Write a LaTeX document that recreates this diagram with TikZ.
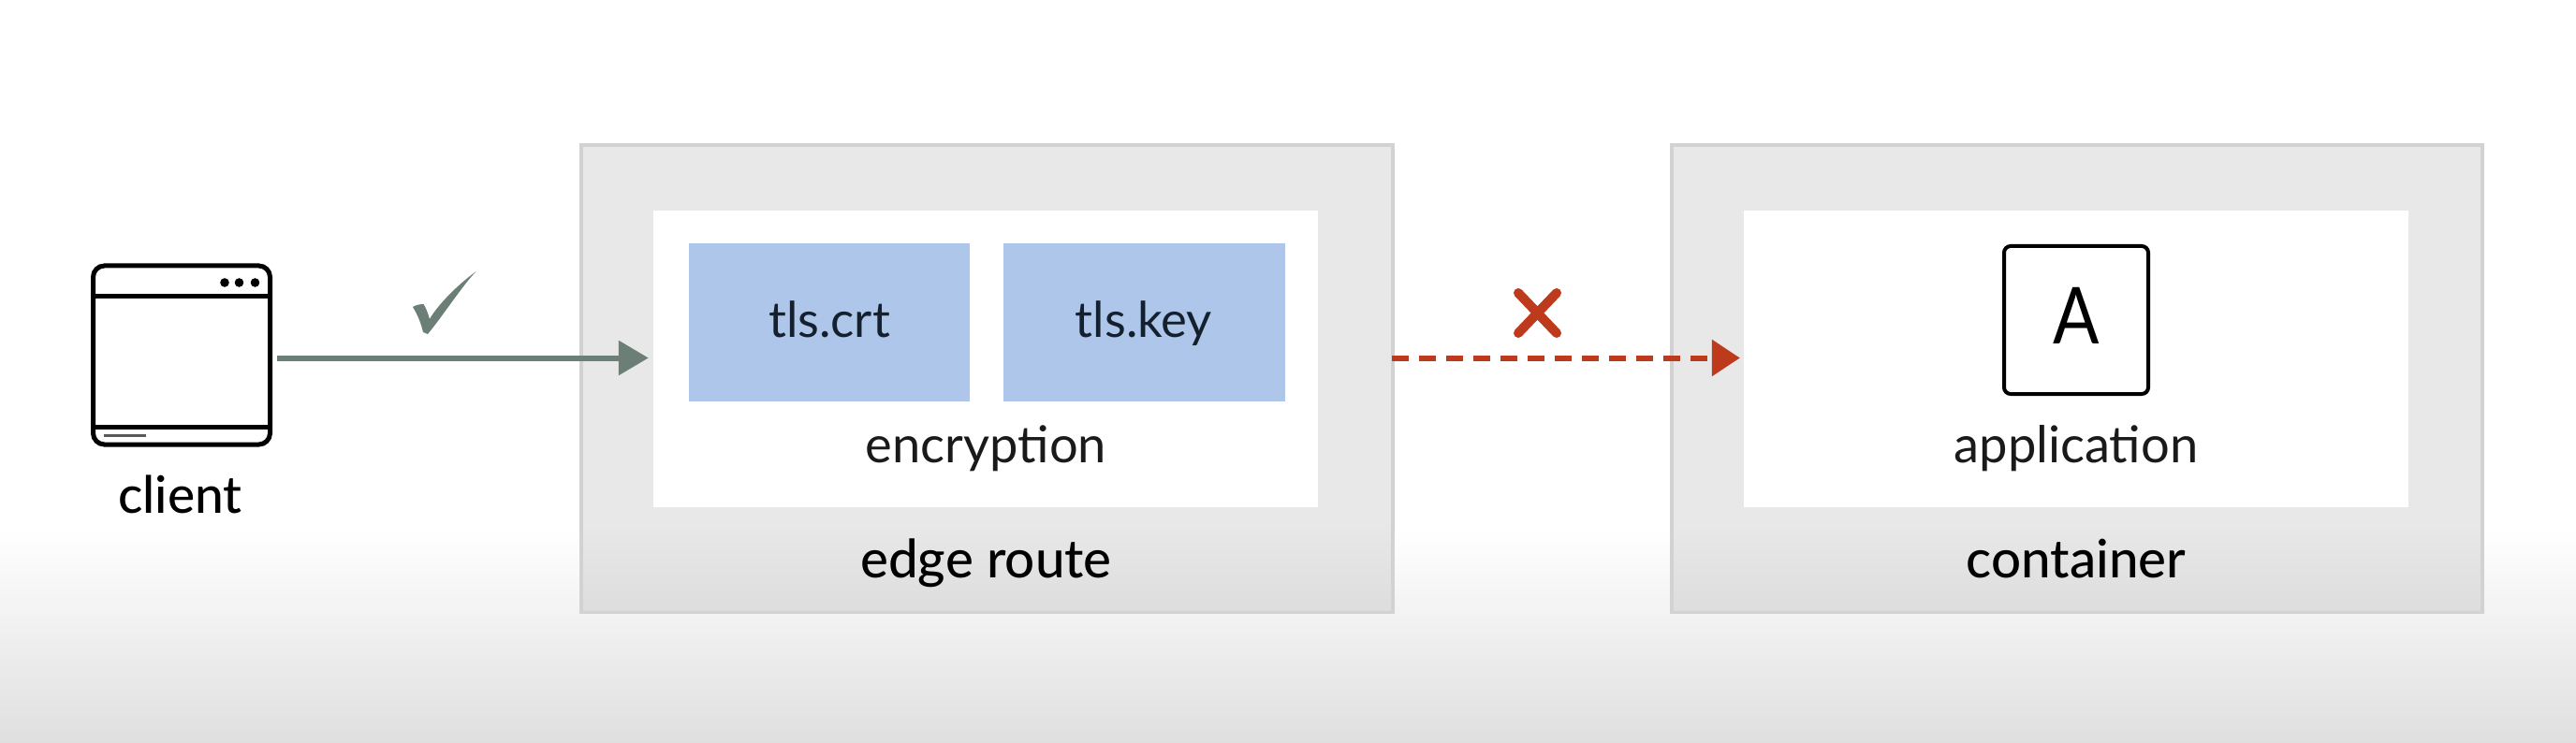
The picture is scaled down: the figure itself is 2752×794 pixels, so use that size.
\documentclass[tikz,border=0pt]{standalone}
\usepackage{fontspec}
\setmainfont{Lato}
\newfontfamily\medfont{Lato Medium}
\usetikzlibrary{arrows.meta,calc}
\definecolor{boxfill}{HTML}{E8E8E8}
\definecolor{boxshade}{HTML}{DDDDDD}
\definecolor{boxline}{HTML}{D2D2D2}
\definecolor{certblue}{HTML}{ADC6E9}
\definecolor{okgreen}{HTML}{6B7F76}
\definecolor{badred}{HTML}{BE3A1C}
\definecolor{inktext}{HTML}{1A1A1A}
\definecolor{bluetext}{HTML}{14202E}
\tikzset{
  x=1pt,y=-1pt,
  outerbox/.style={draw=boxline,line width=4pt,fill=boxfill,minimum width=#1,minimum height=498pt,inner sep=0pt},
  innerbox/.style={fill=white,minimum width=#1,minimum height=316pt,inner sep=0pt},
  certbox/.style={fill=certblue,minimum width=300.5pt,minimum height=169pt,inner sep=0pt},
  certlabel/.style={anchor=base,inner sep=0pt,text=bluetext,font=\fontsize{52.7}{52.7}\selectfont},
  innerlabel/.style={anchor=base,text=inktext,inner sep=0pt,font=\fontsize{54.3}{54.3}\selectfont},
  mainlabel/.style={anchor=base,text=black,inner sep=0pt,font=\medfont\fontsize{56.5}{56.5}\selectfont},
  greenarrow/.style={draw=okgreen,line width=6pt,-{Triangle[length=32pt,width=36pt]}},
  redarrow/.style={draw=badred,line width=6pt,dash pattern=on 18pt off 11pt,-{Triangle[length=30pt,width=38pt,sep=0pt]}},
  winline/.style={draw=black,line width=5pt},
}
\begin{document}
\begin{tikzpicture}
\useasboundingbox (0,0) rectangle (2752,794);
\fill[white] (0,0) rectangle (2752,794);
\foreach \i in {0,...,114}{
  \pgfmathsetmacro{\p}{\i/114*12.5}
  \fill[black!\p!white] (0,565+2*\i) rectangle (2752,794);
}

% edge route
\node[outerbox=867pt] (edge) at (1054.5,404.5) {};
\foreach \i in {0,...,46}{
  \pgfmathsetmacro{\p}{\i/46*100}
  \fill[boxshade!\p!boxfill] ($(edge.west |- 0,560+2*\i)+(4,0)$) rectangle ($(edge.south east)+(-4,-4)$);
}
\node[innerbox=710pt] (innerE) at (1053,383.5) {};
\node[certbox] (crt) at (885.75,344.5) {};
\node[certbox] (key) at (1222.25,344.5) {};
\node[certlabel] (crtt) at (886,360.5) {tls.crt};
\node[certlabel] (keyt) at (1222,360.5) {tls.key};
\node[innerlabel] (enc) at (1053.5,494) {encryption};
\node[mainlabel] (edgel) at (1053.5,617) {edge route};

% container
\node[outerbox=866pt] (cont) at (2219,404.5) {};
\foreach \i in {0,...,46}{
  \pgfmathsetmacro{\p}{\i/46*100}
  \fill[boxshade!\p!boxfill] ($(cont.west |- 0,560+2*\i)+(4,0)$) rectangle ($(cont.south east)+(-4,-4)$);
}
\node[innerbox=710pt] (innerA) at (2218,383.5) {};
\node[draw=black,line width=4pt,rounded corners=7pt,fill=white,minimum width=154pt,minimum height=158pt,inner sep=0pt] (appbox) at (2218,342) {};
\node[anchor=base,inner sep=0pt,text=black,font=\fontsize{84}{84}\selectfont] (appa) at (2218,367.5) {\scalebox{0.87}[1]{A}};
\node[innerlabel] (app) at (2218,494) {application};
\node[mainlabel] (contl) at (2218,617) {container};

% client window
\node[winline,rounded corners=12pt,minimum width=189pt,minimum height=191pt,inner sep=0pt] (win) at (194,379.5) {};
\draw[winline] (win.west |- 0,317) -- (win.east |- 0,317);
\draw[winline] (win.west |- 0,456) -- (win.east |- 0,456);
\fill[black] (240,302) circle (4.8) (255.5,302) circle (4.8) (272.5,302) circle (4.8);
\draw[draw=black!65,line width=3pt] (110.5,465.5) -- (156,465.5);
\node[mainlabel,font=\medfont\fontsize{55}{55}\selectfont] (client) at (192.5,548.5) {client};

% connectors
\draw[greenarrow] ($(win.east |- innerE.west)+(5,-1)$) -- ($(innerE.west)+(-5,-1)$);
\draw[redarrow] ($(edge.east |- innerE.west)+(-3,-1)$) -- ($(innerA.west)+(-4,-1)$);

% marks
\fill[okgreen] (508.7,290) .. controls (494,305) and (475,335) .. (457,357)
  -- (452,355)
  .. controls (450,346) and (446,336) .. (441,328)
  .. controls (444,326) and (449,325) .. (452.5,325)
  .. controls (455,329) and (457,334) .. (459,341)
  .. controls (465,330) and (484,308) .. cycle;
\draw[badred,line width=10pt,line cap=round] (1622,313) -- (1663,356) (1663,313) -- (1622,356);
\end{tikzpicture}
\end{document}
